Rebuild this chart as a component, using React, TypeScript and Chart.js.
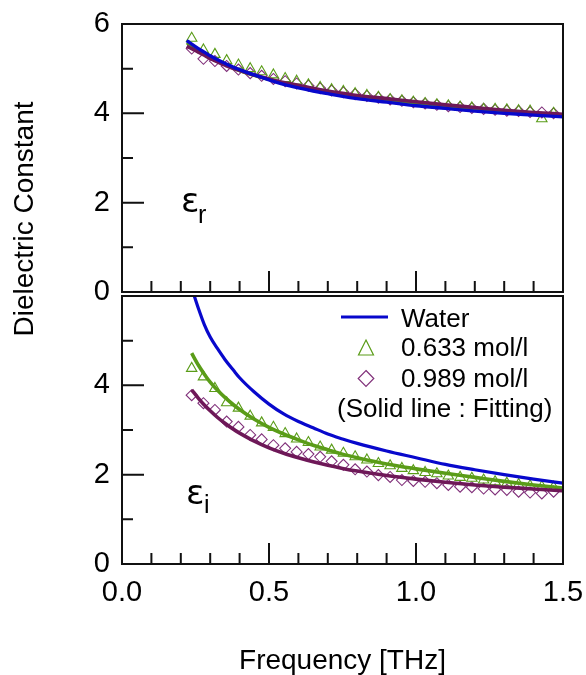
import React, { useEffect, useRef } from 'react';
import { Chart, registerables } from 'chart.js';

Chart.register(...registerables);

const SANS = "'Liberation Sans', Arial, Helvetica, sans-serif";
const INK = '#111111';
const GREEN = '#5a9c18';
const PURPLE = '#6e1858';
const PURPLE_MARK = '#80307a';
const BLUE = '#0808cc';

// Measured frequencies [THz]
const freqs = [
  0.237, 0.277, 0.316, 0.356, 0.396, 0.436, 0.475, 0.515, 0.555, 0.594, 0.634,
  0.674, 0.713, 0.753, 0.793, 0.833, 0.872, 0.912, 0.952, 0.991, 1.031, 1.071,
  1.11, 1.15, 1.19, 1.23, 1.269, 1.309, 1.349, 1.388, 1.428, 1.468,
];

// Real part (εr), measured
const epsR633 = [
  5.68, 5.42, 5.32, 5.18, 5.08, 5.0, 4.93, 4.86, 4.78, 4.72, 4.64, 4.58, 4.53,
  4.49, 4.44, 4.4, 4.36, 4.31, 4.28, 4.25, 4.22, 4.19, 4.17, 4.14, 4.12, 4.09,
  4.09, 4.08, 4.06, 4.05, 3.88, 4.0,
];
const epsR989 = [
  5.45, 5.22, 5.17, 5.06, 4.98, 4.9, 4.84, 4.77, 4.72, 4.67, 4.62, 4.56, 4.51,
  4.47, 4.43, 4.39, 4.35, 4.31, 4.28, 4.25, 4.22, 4.19, 4.16, 4.14, 4.12, 4.1,
  4.08, 4.06, 4.05, 4.03, 4.02, 4.0,
];

// Imaginary part (εi), measured
const epsI633 = [
  4.38, 4.19, 3.93, 3.61, 3.49, 3.31, 3.16, 3.06, 2.92, 2.8, 2.72, 2.62, 2.55,
  2.48, 2.4, 2.33, 2.25, 2.2, 2.14, 2.09, 2.05, 2.02, 1.97, 1.94, 1.92, 1.88,
  1.84, 1.81, 1.78, 1.75, 1.73, 1.72,
];
const epsI989 = [
  3.78, 3.6, 3.45, 3.19, 3.07, 2.89, 2.79, 2.66, 2.59, 2.51, 2.46, 2.4, 2.3,
  2.22, 2.12, 2.07, 1.99, 1.95, 1.88, 1.86, 1.84, 1.81, 1.77, 1.73, 1.72, 1.69,
  1.67, 1.66, 1.62, 1.6, 1.58, 1.62,
];

// Fitting curves, sampled on a common frequency grid [THz]
const fitFreqs = [
  0.22, 0.237, 0.26, 0.28, 0.3, 0.325, 0.35, 0.38, 0.4, 0.45, 0.5, 0.55, 0.6,
  0.65, 0.7, 0.75, 0.8, 0.9, 1.0, 1.1, 1.2, 1.3, 1.4, 1.5,
];
const fitRWater = [
  5.63, 5.55, 5.45, 5.37, 5.29, 5.2, 5.12, 5.03, 4.98, 4.86, 4.75, 4.65, 4.57,
  4.5, 4.44, 4.38, 4.33, 4.25, 4.17, 4.11, 4.05, 4.0, 3.96, 3.92,
];
const fitR633 = [
  5.58, 5.52, 5.42, 5.34, 5.26, 5.17, 5.1, 5.01, 4.96, 4.85, 4.76, 4.67, 4.6,
  4.53, 4.47, 4.42, 4.37, 4.3, 4.23, 4.16, 4.1, 4.05, 4.0, 3.96,
];
const fitR989 = [
  5.5, 5.45, 5.37, 5.3, 5.23, 5.15, 5.08, 5.0, 4.96, 4.86, 4.77, 4.69, 4.63,
  4.56, 4.5, 4.45, 4.4, 4.33, 4.26, 4.19, 4.13, 4.07, 4.02, 3.98,
];
const fitIWater = [
  null, 6.18, 5.72, 5.36, 5.08, 4.82, 4.58, 4.33, 4.17, 3.85, 3.58, 3.36, 3.19,
  3.05, 2.91, 2.8, 2.7, 2.53, 2.38, 2.23, 2.11, 2.0, 1.9, 1.81,
];
const fitI633 = [
  null, 4.72, 4.45, 4.25, 4.07, 3.89, 3.73, 3.56, 3.46, 3.24, 3.06, 2.91, 2.78,
  2.66, 2.56, 2.46, 2.38, 2.24, 2.13, 2.03, 1.94, 1.85, 1.77, 1.7,
];
const fitI989 = [
  null, 3.9, 3.71, 3.56, 3.43, 3.28, 3.15, 3.01, 2.93, 2.75, 2.6, 2.48, 2.38,
  2.29, 2.21, 2.14, 2.08, 1.98, 1.9, 1.83, 1.77, 1.72, 1.68, 1.64,
];

const xTickValues = [0, 0.5, 1.0, 1.5];
const yTickTop = [0, 2, 4, 6];
const yTickBottom = [0, 2, 4];
const legendLabels = ['Water', '0.633 mol/l', '0.989 mol/l', '(Solid line : Fitting)'];
const xTitle = 'Frequency [THz]';
const yTitle = 'Dielectric Constant';

const pts = (xs: number[], ys: (number | null)[]) => xs.map((x, i) => ({ x, y: ys[i] }));

const fitLine = (label: string, data: any[], axis: string, color: string, order: number, width: number) => ({
  label,
  data,
  yAxisID: axis,
  borderColor: color,
  backgroundColor: color,
  borderWidth: width,
  pointRadius: 0,
  cubicInterpolationMode: 'monotone' as const,
  showLine: true,
  order,
});

const markers = (label: string, data: any[], axis: string, color: string, style: string, r: number) => ({
  label,
  data,
  yAxisID: axis,
  showLine: false,
  pointStyle: style,
  pointRadius: r,
  borderColor: color,
  backgroundColor: 'rgba(0,0,0,0)',
  pointBorderWidth: 1.1,
  order: 5,
});

// Scale paddings are zeroed so the plot area comes only from layout.padding
const fixPadding = (s: any) => {
  s.paddingLeft = 0;
  s.paddingRight = 0;
  s.paddingTop = 0;
  s.paddingBottom = 0;
};

// Panel frames, inward ticks, legend and panel labels
const panelPlugin = {
  id: 'panelDecor',
  beforeDatasetDraw(chart: any, args: any) {
    const ds = chart.data.datasets[args.index];
    const ys = chart.scales[ds.yAxisID];
    const { left, right } = chart.chartArea;
    const top = ys.getPixelForValue(6);
    const bottom = ys.getPixelForValue(0);
    const ctx = chart.ctx;
    ctx.save();
    ctx.beginPath();
    ctx.rect(left, top, right - left, bottom - top);
    ctx.clip();
  },
  afterDatasetDraw(chart: any) {
    chart.ctx.restore();
  },
  afterDraw(chart: any) {
    const ctx = chart.ctx;
    const { left, right } = chart.chartArea;
    const xs = chart.scales.x;
    ctx.save();
    ctx.strokeStyle = INK;
    ctx.lineWidth = 2;
    for (const id of ['yTop', 'yBot']) {
      const ys = chart.scales[id];
      const top = ys.getPixelForValue(6);
      const bottom = ys.getPixelForValue(0);
      ctx.strokeRect(left, top, right - left, bottom - top);
      ctx.beginPath();
      for (let v = 1; v <= 5; v++) {
        const y = ys.getPixelForValue(v);
        ctx.moveTo(left, y);
        ctx.lineTo(left + (v % 2 === 0 ? 22 : 11), y);
      }
      for (let k = 1; k <= 14; k++) {
        const x = xs.getPixelForValue(k / 10);
        ctx.moveTo(x, bottom);
        ctx.lineTo(x, bottom - (k % 5 === 0 ? 21 : 11));
      }
      ctx.stroke();
    }

    // axis title on the left
    ctx.fillStyle = '#000';
    ctx.font = `28px ${SANS}`;
    ctx.textAlign = 'center';
    ctx.textBaseline = 'alphabetic';
    ctx.save();
    ctx.translate(33, 219);
    ctx.rotate(-Math.PI / 2);
    ctx.fillText(yTitle, 0, 0);
    ctx.restore();

    // panel labels εr / εi
    const topBase = chart.scales.yTop.getPixelForValue(0);
    const botBase = chart.scales.yBot.getPixelForValue(0);
    ctx.textAlign = 'left';
    ctx.font = `34px 'DejaVu Sans', sans-serif`;
    ctx.fillText('ε', left + 59, topBase - 80);
    ctx.fillText('ε', left + 64, botBase - 60);
    ctx.font = `25px ${SANS}`;
    ctx.fillText('r', left + 76, topBase - 69);
    ctx.fillText('i', left + 82, botBase - 51);

    // legend
    const lt = chart.scales.yBot.getPixelForValue(6);
    ctx.font = `26px ${SANS}`;
    ctx.fillText(legendLabels[0], right - 162, lt + 31);
    ctx.fillText(legendLabels[1], right - 162, lt + 60);
    ctx.fillText(legendLabels[2], right - 162, lt + 90.5);
    ctx.fillText(legendLabels[3], right - 226, lt + 121);

    ctx.strokeStyle = BLUE;
    ctx.lineWidth = 3;
    ctx.beginPath();
    ctx.moveTo(right - 222, lt + 21);
    ctx.lineTo(right - 175, lt + 21);
    ctx.stroke();

    const mx = right - 197;
    ctx.lineWidth = 1.2;
    ctx.strokeStyle = GREEN;
    ctx.beginPath();
    ctx.moveTo(mx, lt + 44);
    ctx.lineTo(mx + 7.5, lt + 59);
    ctx.lineTo(mx - 7.5, lt + 59);
    ctx.closePath();
    ctx.stroke();

    ctx.strokeStyle = PURPLE_MARK;
    const dy = lt + 82.5;
    ctx.beginPath();
    ctx.moveTo(mx, dy - 8);
    ctx.lineTo(mx + 7.8, dy);
    ctx.lineTo(mx, dy + 8);
    ctx.lineTo(mx - 7.8, dy);
    ctx.closePath();
    ctx.stroke();
    ctx.restore();
  },
};

export default function App() {
  const canvasRef = useRef<HTMLCanvasElement | null>(null);

  useEffect(() => {
    const canvas = canvasRef.current;
    if (!canvas) return;

    const tickFont = { family: SANS, size: 29 };

    const chart = new Chart(canvas, {
      type: 'line',
      data: {
        datasets: [
          fitLine('Water', pts(fitFreqs, fitRWater), 'yTop', BLUE, 0, 3.4),
          fitLine('0.989 mol/l fit', pts(fitFreqs, fitR989), 'yTop', PURPLE, 1, 3.6),
          fitLine('0.633 mol/l fit', pts(fitFreqs, fitR633), 'yTop', GREEN, 2, 3.6),
          markers('0.633 mol/l', pts(freqs, epsR633), 'yTop', GREEN, 'triangle', 6),
          markers('0.989 mol/l', pts(freqs, epsR989), 'yTop', PURPLE_MARK, 'rectRot', 5.5),
          fitLine('Water', pts(fitFreqs, fitIWater), 'yBot', BLUE, 0, 3.2),
          fitLine('0.989 mol/l fit', pts(fitFreqs, fitI989), 'yBot', PURPLE, 1, 3.6),
          fitLine('0.633 mol/l fit', pts(fitFreqs, fitI633), 'yBot', GREEN, 2, 3.6),
          markers('0.633 mol/l', pts(freqs, epsI633), 'yBot', GREEN, 'triangle', 6),
          markers('0.989 mol/l', pts(freqs, epsI989), 'yBot', PURPLE_MARK, 'rectRot', 5.5),
        ] as any,
      },
      options: {
        responsive: false,
        animation: false,
        events: [],
        layout: { padding: { left: 0, right: 23, top: 24, bottom: 0 } },
        plugins: { legend: { display: false }, tooltip: { enabled: false } },
        scales: {
          x: {
            type: 'linear',
            position: 'bottom',
            min: 0,
            max: 1.5,
            grid: { display: false },
            border: { display: false },
            afterBuildTicks: (s: any) => {
              s.ticks = xTickValues.map((value) => ({ value }));
            },
            afterFit: (s: any) => {
              s.height = 111;
              fixPadding(s);
            },
            ticks: {
              autoSkip: false,
              maxRotation: 0,
              padding: 4,
              color: '#000',
              font: tickFont,
              callback: (v: any) => Number(v).toFixed(1),
            },
            title: {
              display: true,
              text: xTitle,
              color: '#000',
              font: { family: SANS, size: 28, lineHeight: 0.95 },
              padding: { top: 0, bottom: 0 },
            },
          },
          yTop: {
            type: 'linear',
            position: 'left',
            stack: 'panels',
            stackWeight: 6.09,
            weight: 1,
            min: -0.09,
            max: 6,
            grid: { display: false },
            border: { display: false },
            afterBuildTicks: (s: any) => {
              s.ticks = yTickTop.map((value) => ({ value }));
            },
            afterFit: (s: any) => {
              s.width = 122;
              fixPadding(s);
            },
            ticks: { padding: 4, color: '#000', font: tickFont },
          },
          yBot: {
            type: 'linear',
            position: 'left',
            stack: 'panels',
            stackWeight: 6,
            weight: 0,
            min: 0,
            max: 6,
            grid: { display: false },
            border: { display: false },
            afterBuildTicks: (s: any) => {
              s.ticks = yTickBottom.map((value) => ({ value }));
            },
            afterFit: (s: any) => {
              s.width = 122;
              fixPadding(s);
            },
            ticks: { padding: 4, color: '#000', font: tickFont },
          },
        } as any,
      },
      plugins: [panelPlugin],
    });

    return () => chart.destroy();
  }, []);

  return (
    <div style={{ position: 'absolute', left: 0, top: 0, width: 586, height: 675, background: '#fff' }}>
      <canvas ref={canvasRef} width={586} height={675} style={{ display: 'block' }} />
    </div>
  );
}
